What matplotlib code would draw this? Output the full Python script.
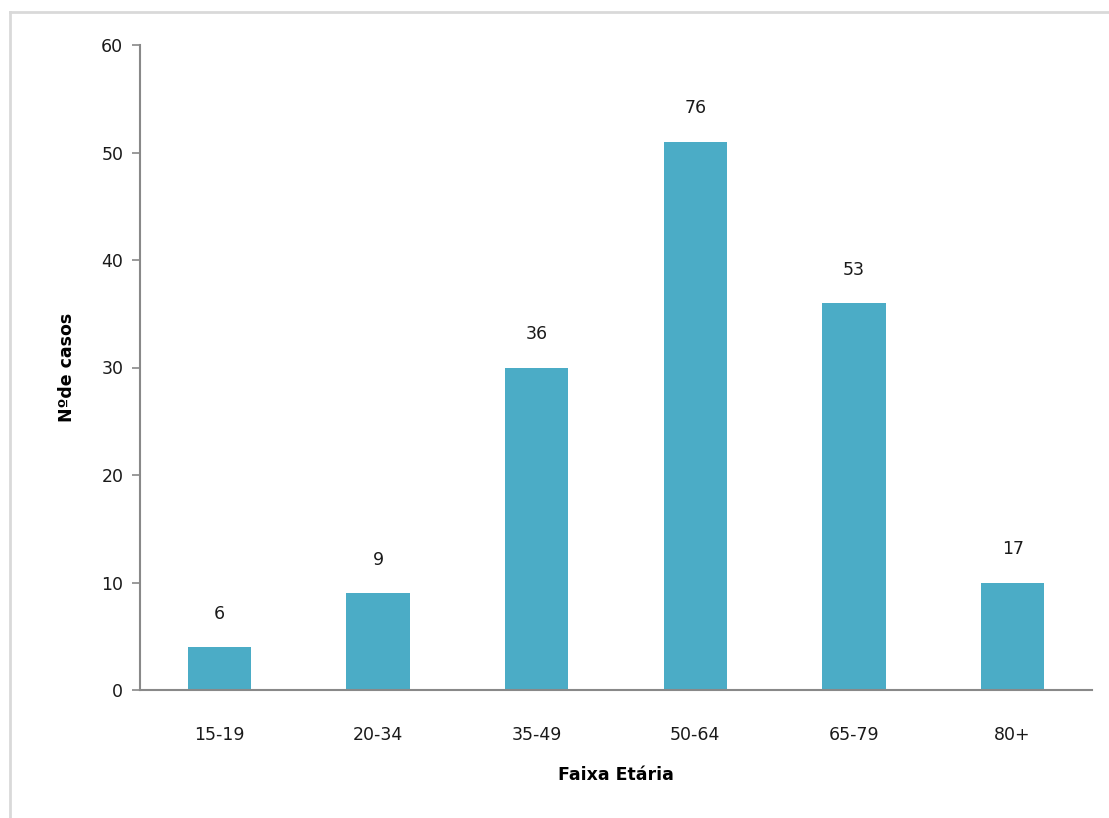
import matplotlib.pyplot as plt
from matplotlib.lines import Line2D

faixas = ['15-19', '20-34', '35-49', '50-64', '65-79', '80+']
alturas = [4, 9, 30, 51, 36, 10]
rotulos = ['6', '9', '36', '76', '53', '17']
yticks = [0, 10, 20, 30, 40, 50, 60]

plt.rcParams.update({'font.family': 'DejaVu Sans', 'font.size': 12.5})
fig = plt.figure(figsize=(11.09, 8.18), dpi=100)
# moldura cinza clara (so topo e esquerda visiveis)
top = 1 - 12 / 818
left = 10 / 1109
fig.lines.append(Line2D([left, 1.0], [top, top], transform=fig.transFigure,
                        color='#d9d9d9', linewidth=2))
fig.lines.append(Line2D([left, left], [0, top], transform=fig.transFigure,
                        color='#d9d9d9', linewidth=2))
ax = fig.add_axes([140 / 1109, 1 - 690 / 818, 952 / 1109, 645 / 818])

x = range(len(faixas))
bars = ax.bar(x, alturas, width=0.4, color='#4bacc6')
for b, txt in zip(bars, rotulos):
    ax.annotate(txt, (b.get_x() + b.get_width() / 2, b.get_height()),
                xytext=(0, 24), textcoords='offset points',
                ha='center', va='center', color='#1a1a1a')

ax.set_xlim(-0.5, 5.5)
ax.set_ylim(0, 60)
ax.set_yticks(yticks)
ax.set_xticks(list(x))
ax.set_xticklabels(faixas)
ax.tick_params(axis='x', length=0, pad=26, colors='#1a1a1a')
ax.tick_params(axis='y', length=6, width=1.2, color='#898989', labelcolor='#1a1a1a', pad=6)
for s in ['top', 'right']:
    ax.spines[s].set_visible(False)
for s in ['left', 'bottom']:
    ax.spines[s].set_color('#898989')
    ax.spines[s].set_linewidth(1.5)

ax.set_xlabel('Faixa Etária', fontweight='bold', labelpad=16)
ax.set_ylabel('Nºde casos', fontweight='bold', labelpad=18)

plt.savefig('out.png', dpi=100)
